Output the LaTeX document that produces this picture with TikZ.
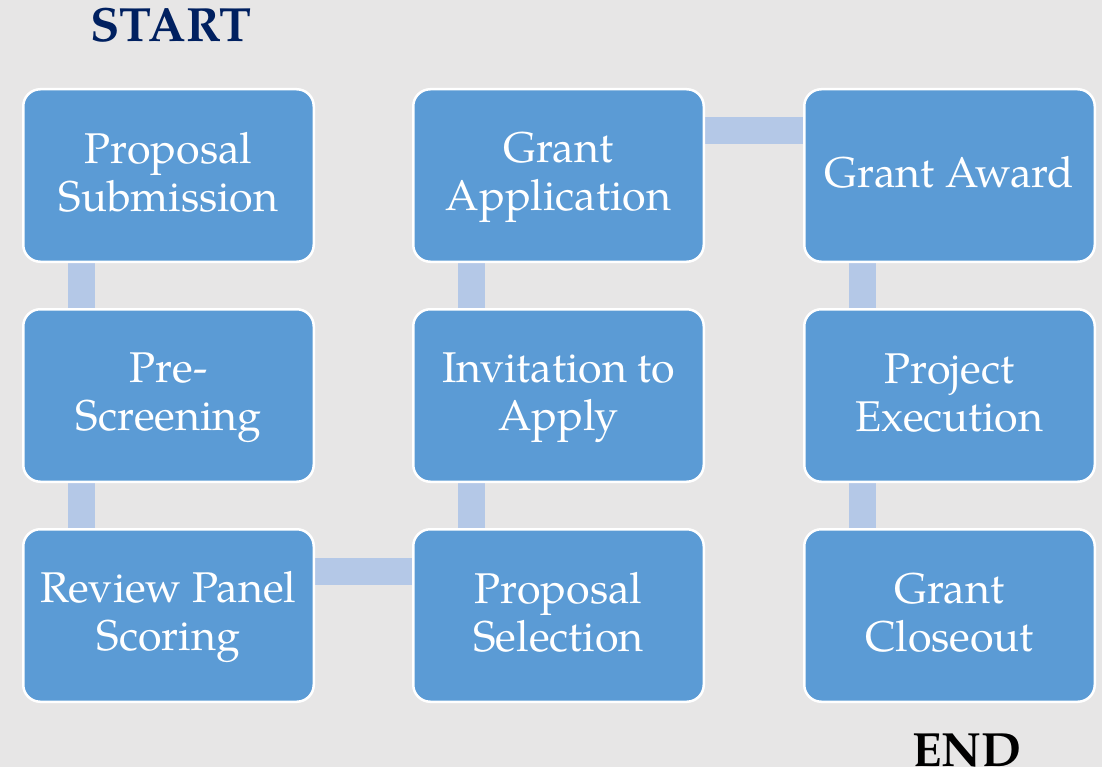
\documentclass[tikz,border=0pt]{standalone}
\usepackage{fontspec}
\setmainfont{TeX Gyre Pagella}
\usetikzlibrary{backgrounds}
\definecolor{bgc}{HTML}{E7E6E6}
\definecolor{boxc}{HTML}{5B9BD5}
\definecolor{connc}{HTML}{B4C8E7}
\definecolor{navy}{HTML}{002060}
\newcommand\tstrut{\rule[-10pt]{0pt}{44pt}}
\tikzset{
  stepbox/.style={draw=white, line width=2.5pt, fill=boxc, rounded corners=17pt,
    minimum width=290.5pt, minimum height=172.5pt, inner sep=0pt,
    align=center, text=white, font=\fontsize{43}{47.5}\selectfont},
  conn/.style={draw=connc, line width=27pt},
  endlabel/.style={font=\bfseries\fontsize{48}{52}\selectfont, anchor=base, inner sep=0pt}
}
\begin{document}
\begin{tikzpicture}[x=1pt,y=-1pt]
\useasboundingbox (0,0) rectangle (1102,767);
\node[stepbox] (a) at (168.5,175.5) {\tstrut Proposal\\Submission\tstrut};
\node[stepbox] (b) at (168.5,395.5) {\tstrut Pre-\\Screening\tstrut};
\node[stepbox] (c) at (168.5,615.5) {\tstrut Review Panel\\Scoring\tstrut};
\node[stepbox] (d) at (558.5,615.5) {\tstrut Proposal\\Selection\tstrut};
\node[stepbox] (e) at (558.5,395.5) {\tstrut Invitation to\\Apply\tstrut};
\node[stepbox] (f) at (558.5,175.5) {\tstrut Grant\\Application\tstrut};
\node[stepbox] (g) at (949.5,175.5) {\tstrut Grant Award\tstrut};
\node[stepbox] (h) at (949.5,395.5) {\tstrut Project\\Execution\tstrut};
\node[stepbox] (i) at (949.5,615.5) {\tstrut Grant\\Closeout\tstrut};
\node[endlabel, text=navy] (start) at (171,42) {START};
\node[endlabel, text=black] (end) at (967,766) {END};
\begin{pgfonlayer}{background}
\fill[bgc] (0,0) rectangle (1102,767);
\draw[conn] ([xshift=-87pt]a.south) -- ([xshift=-87pt]b.north);
\draw[conn] ([xshift=-87pt]b.south) -- ([xshift=-87pt]c.north);
\draw[conn] ([yshift=44.5pt]c.east) -- ([yshift=44.5pt]d.west);
\draw[conn] ([xshift=-87pt]d.north) -- ([xshift=-87pt]e.south);
\draw[conn] ([xshift=-87pt]e.north) -- ([xshift=-87pt]f.south);
\draw[conn] ([yshift=44.5pt]f.east) -- ([yshift=44.5pt]g.west);
\draw[conn] ([xshift=-87pt]g.south) -- ([xshift=-87pt]h.north);
\draw[conn] ([xshift=-87pt]h.south) -- ([xshift=-87pt]i.north);
\end{pgfonlayer}
\end{tikzpicture}
\end{document}
